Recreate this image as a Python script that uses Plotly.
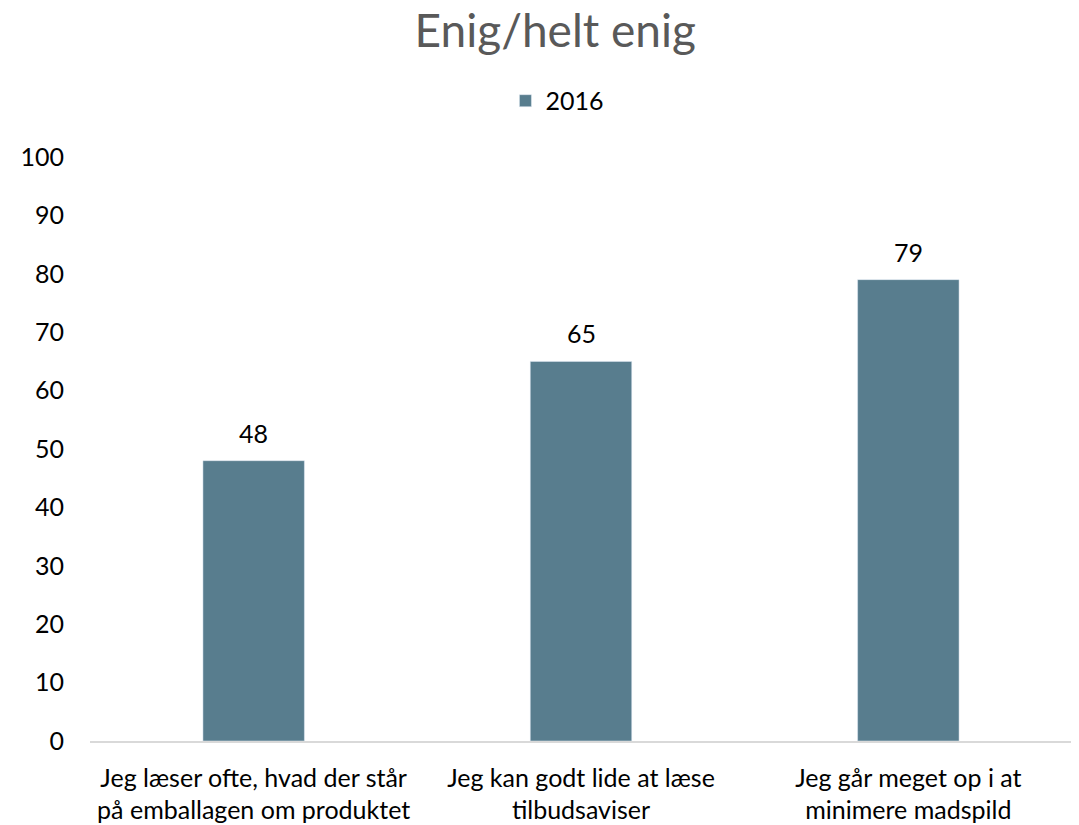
import plotly.graph_objects as go

categories = ["Jeg læser ofte, hvad der står<br>på emballagen om produktet",
              "Jeg kan godt lide at læse<br>tilbudsaviser",
              "Jeg går meget op i at<br>minimere madspild"]
values_2016 = [48, 65, 79]
series_name = "2016"
title_text = "Enig/helt enig"
y_ticks = [0, 10, 20, 30, 40, 50, 60, 70, 80, 90, 100]

FONT = "Lato"
FS = 25

fig = go.Figure()
fig.add_trace(go.Bar(
    x=categories, y=values_2016, name=series_name,
    marker=dict(color="#587d8e"),
    width=0.31,
))
for c, v in zip(categories, values_2016):
    fig.add_annotation(x=c, y=v, text=str(v), showarrow=False, yshift=28,
                       yanchor="middle", font=dict(size=FS, color="#000000", family=FONT))

fig.update_layout(
    width=1071, height=817,
    margin=dict(l=82, r=7, t=149, b=84),
    paper_bgcolor="white", plot_bgcolor="white",
    title=dict(text=title_text, x=0.511, xanchor="center", y=1.0, yanchor="top",
               pad=dict(t=7, b=0, l=0, r=0),
               font=dict(size=46, color="#595959", family=FONT)),
    showlegend=True,
    legend=dict(orientation="h", x=0.476, xanchor="center", y=1.096, yanchor="middle",
                font=dict(size=FS, color="#000000", family=FONT)),
    font=dict(family=FONT, size=FS, color="#000000"),
    xaxis=dict(showline=True, linecolor="#d9d9d9", linewidth=1.5, ticks="",
               automargin=False, ticklabelstandoff=14,
               tickfont=dict(size=FS, family=FONT, color="#000000"), showgrid=False),
    yaxis=dict(range=[0, 100], tickvals=y_ticks, showgrid=False, zeroline=False,
               showline=False, ticks="", ticklabelstandoff=25, automargin=False,
               tickfont=dict(size=FS, family=FONT, color="#000000")),
    bargap=0.69,
)

fig.write_html("out.html")
